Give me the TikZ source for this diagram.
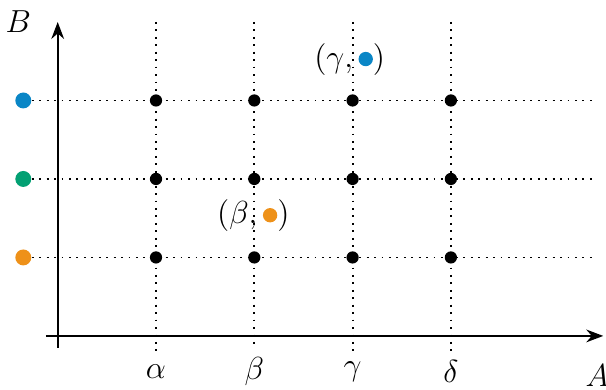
\documentclass[tikz,border=0pt]{standalone}
\usepackage{tikz}
\usetikzlibrary{arrows.meta}
\definecolor{DotBlu}{HTML}{0A86C6}
\definecolor{DotGrn}{HTML}{03A073}
\definecolor{DotOrg}{HTML}{EE9119}
\newcommand{\coldot}[1]{\tikz[baseline=-0.6ex]\fill[#1] (0,0) circle (2.7pt);}

\begin{document}
\begin{tikzpicture}[
  x=1.3cm, y=1.038cm, >=Stealth,
  font=\fontsize{12.5}{15}\selectfont,
  grid/.style = {line width=0.7pt, dash pattern=on 0.7pt off 2.1pt},
  axis/.style = {->, line width=0.75pt},
  pt/.style   = {circle, fill=black, inner sep=0pt, minimum size=4.6pt},
  cdot/.style = {circle, inner sep=0pt, minimum size=6pt},
]
\useasboundingbox (-0.587,-0.688) rectangle (5.578,4.28);

% axes
\coordinate (xs) at (-0.12,0);
\coordinate (xe) at (5.55,0);
\coordinate (ys) at (0,-0.15);
\coordinate (ye) at (0,4.0);
\draw[axis] (xs) -- (xe);
\draw[axis] (ys) -- (ye);
\node (A) at (5.49,-0.5) {$A$};
\node (B) at (-0.40,4.0) {$B$};

% coloured values of B
\node[cdot, fill=DotOrg] (c1) at (-0.35,1) {};
\node[cdot, fill=DotGrn] (c2) at (-0.35,2) {};
\node[cdot, fill=DotBlu] (c3) at (-0.35,3) {};
\foreach \j in {1,2,3}{
  \coordinate (r\j) at (5.48,\j);
  \draw[grid] (c\j) -- (r\j);
}

% values of A
\foreach \i/\g in {1/alpha,2/beta,3/gamma,4/delta}{
  \coordinate (t\i) at (\i,4.0);
  \node (g\i) at (\i,-0.45) {$\csname\g\endcsname$};
  \draw[grid] (t\i) -- (g\i);
}

% grid points
\foreach \i in {1,...,4}
  \foreach \j in {1,2,3}
    \node[pt] (p\i\j) at (\i,\j) {};

% pairs
\node (pb) at (1.99,1.53) {$(\beta,$\,\coldot{DotOrg}$)$};
\node (pg) at (2.97,3.52) {$(\gamma,$\,\coldot{DotBlu}$)$};
\end{tikzpicture}
\end{document}
